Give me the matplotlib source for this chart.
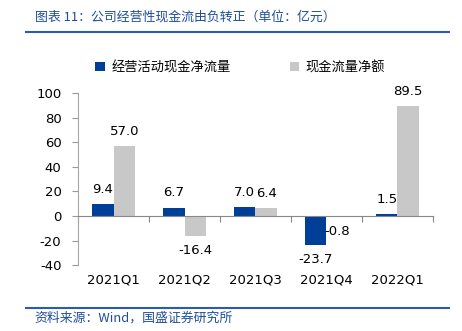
import matplotlib
matplotlib.use("Agg")
import matplotlib.pyplot as plt
import numpy as np
from matplotlib.lines import Line2D
from matplotlib.transforms import blended_transform_factory

plt.rcParams['font.family'] = ['DejaVu Sans', 'Noto Sans CJK SC']
plt.rcParams['axes.unicode_minus'] = False

categories = ["2021Q1", "2021Q2", "2021Q3", "2021Q4", "2022Q1"]
operating_cf = [9.4, 6.7, 7.0, -23.7, 1.5]
net_cf = [57.0, -16.4, 6.4, -0.8, 89.5]
series_names = ["经营活动现金净流量", "现金流量净额"]
yticks = [-40, -20, 0, 20, 40, 60, 80, 100]

blue = "#003f98"
gray = "#c8c8c8"
title_color = "#1f4e9c"
fs = 9.5

fig = plt.figure(figsize=(4.62, 3.31), dpi=100)
ax = fig.add_axes([0.169, 0.199, 0.768, 0.520])

x = np.arange(len(categories))
w = 0.3
ax.bar(x - w / 2, operating_cf, w, color=blue, label=series_names[0], zorder=2)
ax.bar(x + w / 2, net_cf, w, color=gray, label=series_names[1], zorder=2)

ax.set_xlim(-0.5, len(categories) - 0.5)
ax.set_ylim(-40, 100)
ax.set_yticks(yticks)
ax.tick_params(axis='y', length=4, color='#999999', labelsize=fs, pad=8, direction='out')

for s in ['top', 'right']:
    ax.spines[s].set_visible(False)
ax.spines['left'].set_color('#a6a6a6')
ax.spines['bottom'].set_position(('data', 0))
ax.spines['bottom'].set_color('#888888')
ax.set_xticks(np.arange(len(categories) + 1) - 0.5)
ax.set_xticklabels([])
ax.tick_params(axis='x', length=4, color='#888888', direction='out')

trans = blended_transform_factory(ax.transData, ax.transAxes)
for i, c in enumerate(categories):
    ax.text(i, -0.085, c, transform=trans, ha='center', va='center', fontsize=fs)

def label(xpos, v):
    if v >= 0:
        ax.annotate(f"{v:.1f}", (xpos, v), xytext=(0, 6), textcoords='offset points',
                    ha='center', va='bottom', fontsize=fs)
    else:
        ax.annotate(f"{v:.1f}", (xpos, v), xytext=(0, -6), textcoords='offset points',
                    ha='center', va='top', fontsize=fs)

for i in range(len(categories)):
    label(x[i] - w / 2, operating_cf[i])
    label(x[i] + w / 2, net_cf[i])

fig.legend(loc='center', bbox_to_anchor=(0.52, 0.795), ncol=2, frameon=False,
           handlelength=0.7, handleheight=0.7, columnspacing=4.5, handletextpad=0.5,
           prop={'family': ['Noto Sans CJK SC'], 'size': 9.5})

fig.text(0.075, 0.948, "图表 11：公司经营性现金流由负转正（单位：亿元）", color=title_color,
         fontsize=9.3, ha='left', va='center', style='italic',
         family=['Noto Sans CJK SC', 'DejaVu Sans'])
fig.add_artist(Line2D([0.056, 0.972], [0.903, 0.903], color='#2a5caa', lw=1.5))
fig.add_artist(Line2D([0.056, 0.972], [0.070, 0.070], color='#2a5caa', lw=1.5))
fig.text(0.075, 0.040, "资料来源：Wind，国盛证券研究所", color=title_color,
         fontsize=9.3, ha='left', va='center', style='italic',
         family=['Noto Sans CJK SC', 'DejaVu Sans'])

fig.savefig("out.png", dpi=100)
